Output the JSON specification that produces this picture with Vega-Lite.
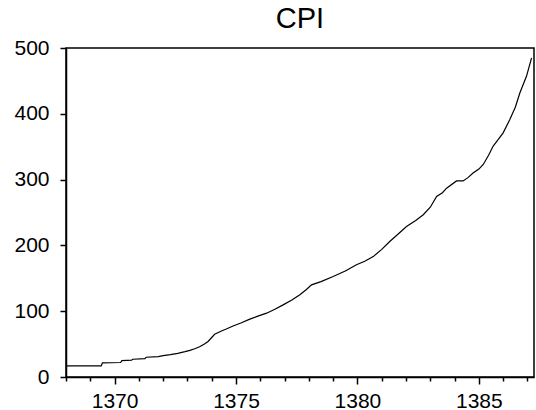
{
  "$schema": "https://vega.github.io/schema/vega-lite/v6.json",
  "autosize": {"type": "none"},
  "padding": {"left": 66, "top": 48, "right": 2, "bottom": 33},
  "width": 468,
  "height": 329,
  "background": "white",
  "title": {"text": "CPI", "font": "Liberation Sans", "fontSize": 29, "fontWeight": "normal", "color": "black", "anchor": "middle", "baseline": "alphabetic", "offset": 12, "dy": 32},
  "config": {"view": {"stroke": "black", "strokeWidth": 1.5}},
  "data": {"values": [
    {"year": 1368.0, "cpi": 17}, {"year": 1369.45, "cpi": 17}, {"year": 1369.5, "cpi": 21.5},
    {"year": 1370.25, "cpi": 22}, {"year": 1370.3, "cpi": 24.8}, {"year": 1370.7, "cpi": 25.5},
    {"year": 1370.75, "cpi": 27}, {"year": 1371.25, "cpi": 28}, {"year": 1371.3, "cpi": 30},
    {"year": 1371.8, "cpi": 31}, {"year": 1372.0, "cpi": 32.5}, {"year": 1372.3, "cpi": 34},
    {"year": 1372.6, "cpi": 36}, {"year": 1372.9, "cpi": 38.5}, {"year": 1373.1, "cpi": 40.5},
    {"year": 1373.3, "cpi": 43}, {"year": 1373.5, "cpi": 46}, {"year": 1373.7, "cpi": 50},
    {"year": 1373.85, "cpi": 54}, {"year": 1374.0, "cpi": 60}, {"year": 1374.12, "cpi": 65},
    {"year": 1374.4, "cpi": 70}, {"year": 1374.6, "cpi": 73}, {"year": 1374.88, "cpi": 77.6},
    {"year": 1375.2, "cpi": 82}, {"year": 1375.57, "cpi": 88}, {"year": 1375.9, "cpi": 92.5},
    {"year": 1376.26, "cpi": 97}, {"year": 1376.6, "cpi": 103}, {"year": 1376.94, "cpi": 109.6},
    {"year": 1377.3, "cpi": 117}, {"year": 1377.63, "cpi": 125}, {"year": 1377.9, "cpi": 133},
    {"year": 1378.11, "cpi": 140}, {"year": 1378.5, "cpi": 145}, {"year": 1379.0, "cpi": 152.7},
    {"year": 1379.5, "cpi": 161}, {"year": 1379.96, "cpi": 170.5}, {"year": 1380.3, "cpi": 176},
    {"year": 1380.65, "cpi": 183}, {"year": 1381.0, "cpi": 194}, {"year": 1381.33, "cpi": 206},
    {"year": 1381.7, "cpi": 218}, {"year": 1382.02, "cpi": 228.8}, {"year": 1382.4, "cpi": 238},
    {"year": 1382.71, "cpi": 246.6}, {"year": 1383.0, "cpi": 258}, {"year": 1383.26, "cpi": 274.5},
    {"year": 1383.5, "cpi": 280}, {"year": 1383.67, "cpi": 287}, {"year": 1384.08, "cpi": 298},
    {"year": 1384.35, "cpi": 298}, {"year": 1384.55, "cpi": 303}, {"year": 1384.76, "cpi": 310},
    {"year": 1385.0, "cpi": 316}, {"year": 1385.18, "cpi": 323}, {"year": 1385.4, "cpi": 337},
    {"year": 1385.59, "cpi": 351}, {"year": 1385.8, "cpi": 361}, {"year": 1386.0, "cpi": 371},
    {"year": 1386.27, "cpi": 391}, {"year": 1386.5, "cpi": 410}, {"year": 1386.69, "cpi": 432},
    {"year": 1386.96, "cpi": 457}, {"year": 1387.17, "cpi": 485}
  ]},
  "layer": [
    {
      "mark": {"type": "line", "color": "black", "strokeWidth": 1.2},
      "encoding": {
        "x": {"field": "year", "type": "quantitative", "scale": {"domain": [1368, 1387.27], "nice": false, "zero": false},
          "axis": {"orient": "bottom", "values": [1370, 1375, 1380, 1385], "title": null, "grid": false, "domainColor": "black", "domainWidth": 1.5, "tickColor": "black", "tickSize": 7, "tickWidth": 1.5, "labelFont": "Liberation Sans", "labelFontSize": 21, "labelColor": "black", "labelPadding": 6, "format": "d"}},
        "y": {"field": "cpi", "type": "quantitative", "scale": {"domain": [0, 500], "nice": false},
          "axis": {"values": [0, 100, 200, 300, 400, 500], "title": null, "grid": false, "domainColor": "black", "domainWidth": 1.5, "tickColor": "black", "tickSize": 6, "tickWidth": 1.5, "labelFont": "Liberation Sans", "labelFontSize": 21, "labelColor": "black", "labelPadding": 11, "format": "d"}}
      }
    },
    {
      "mark": {"type": "line", "opacity": 0},
      "encoding": {
        "x": {"field": "year", "type": "quantitative",
          "axis": {"orient": "bottom", "values": [1368, 1369, 1371, 1372, 1373, 1374, 1376, 1377, 1378, 1379, 1381, 1382, 1383, 1384, 1386, 1387], "title": null, "grid": false, "labels": false, "domain": false, "tickColor": "black", "tickSize": 4, "tickWidth": 1.5}},
        "y": {"field": "cpi", "type": "quantitative"}
      }
    }
  ],
  "resolve": {"axis": {"x": "independent"}}
}
